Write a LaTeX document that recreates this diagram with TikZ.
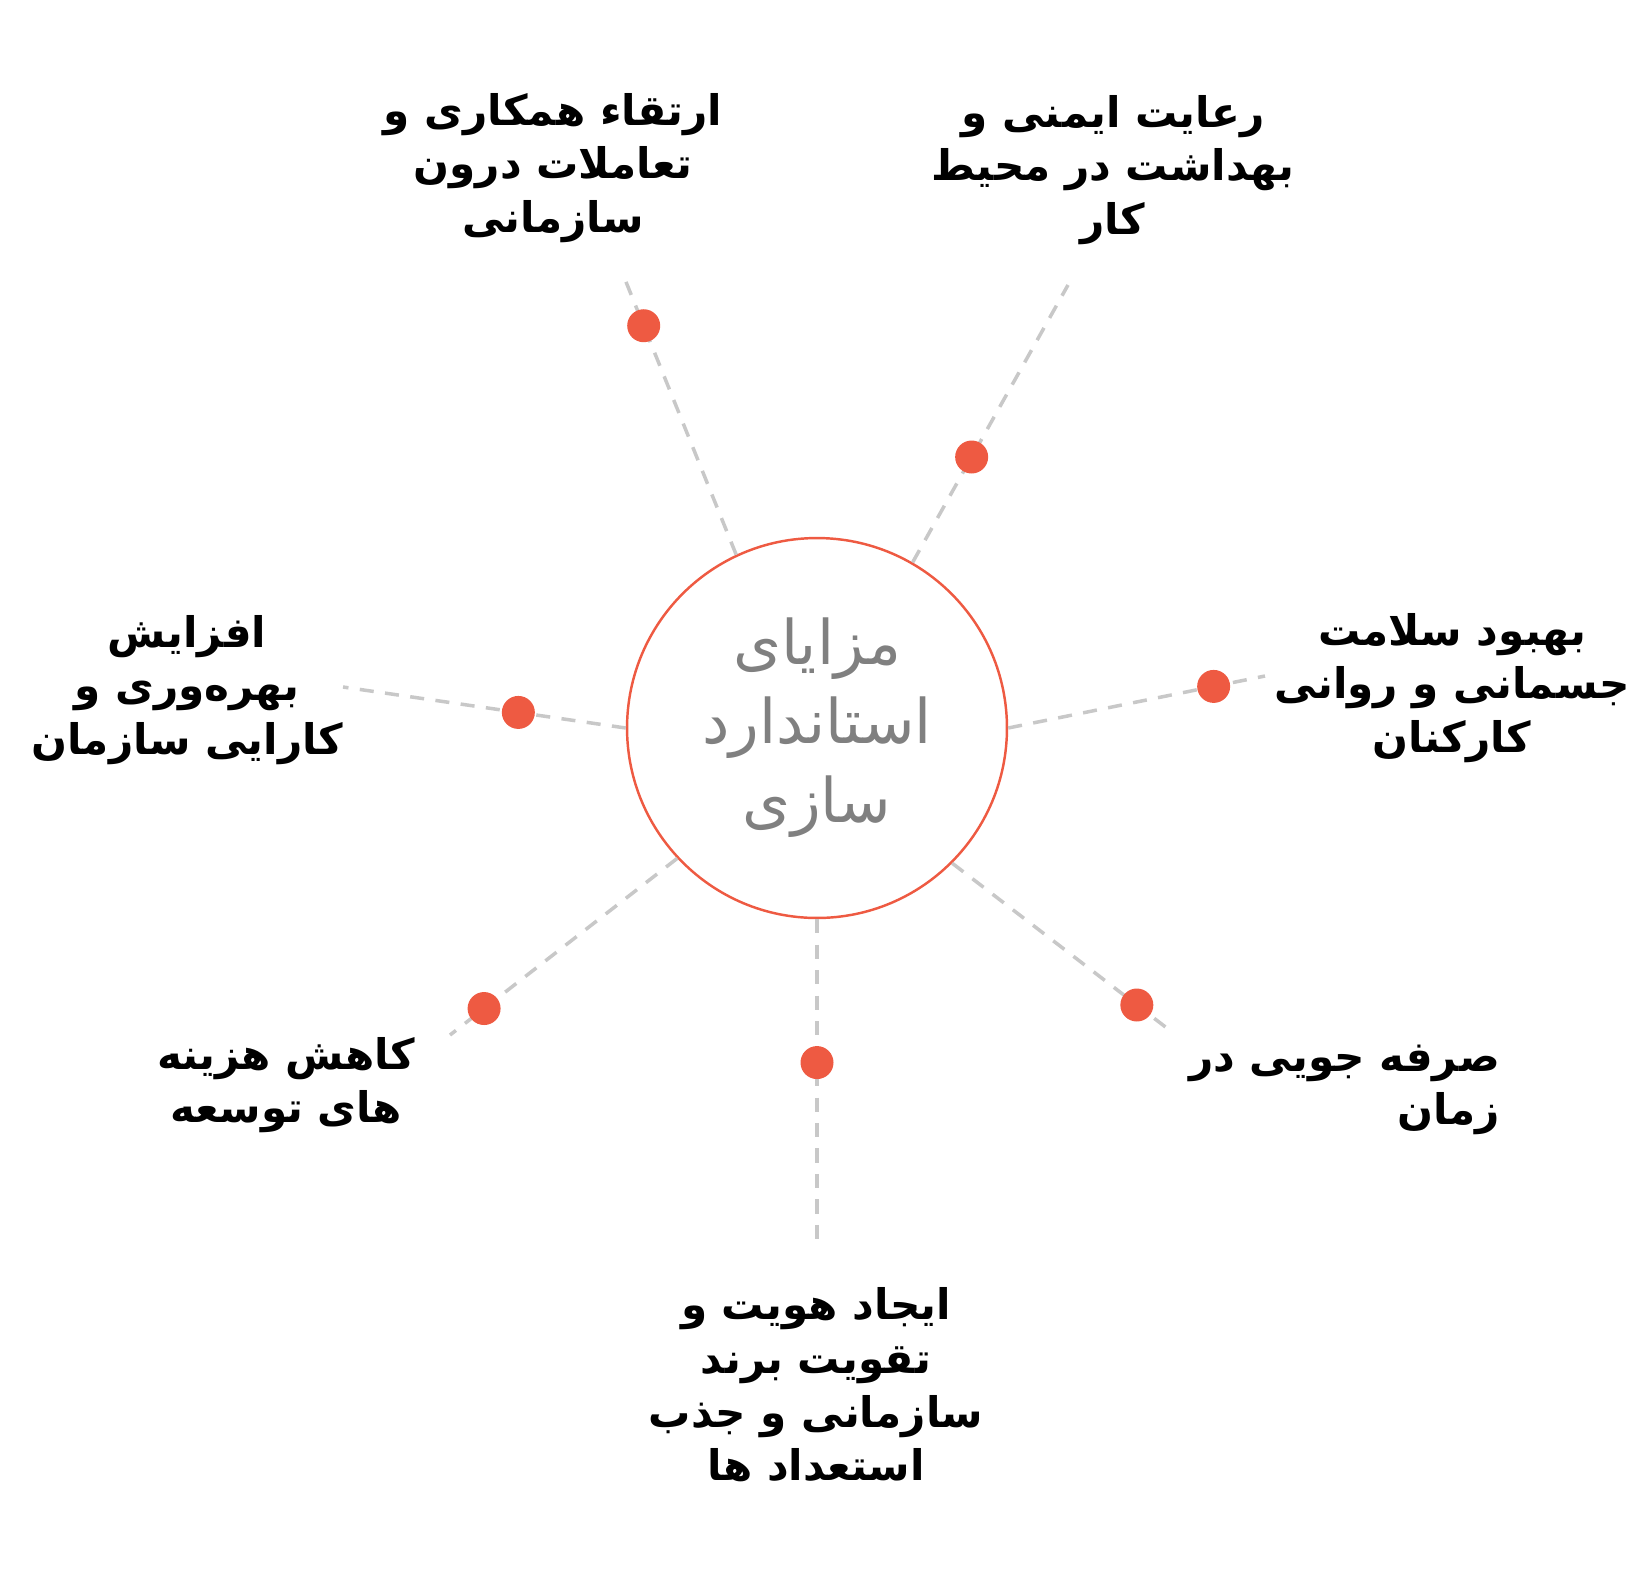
\documentclass[tikz,border=0pt]{standalone}
\usepackage{fontspec}
\usepackage{xcolor}
\usetikzlibrary{positioning}
\TeXXeTstate=1
\newfontfamily\arabicfont[Script=Arabic]{DejaVu Sans}
\newcommand{\rtl}[1]{\beginR #1\endR}
\definecolor{dotred}{HTML}{EE5A42}
\definecolor{dashgray}{HTML}{C8C8C8}
\definecolor{hubgray}{HTML}{808080}

\begin{document}
\begin{tikzpicture}[x=0.02cm, y=-0.02cm]
  \tikzstyle{hub}=[circle, draw=dotred, line width=1.4pt, minimum size=7.6cm, inner sep=0pt, align=center, text=hubgray, font=\arabicfont\fontsize{35}{45}\selectfont]
  \tikzstyle{dot}=[circle, fill=dotred, minimum size=0.66cm, inner sep=0pt]
  \tikzstyle{link}=[draw=dashgray, line width=2pt, dash pattern=on 8pt off 6.5pt]
  \tikzstyle{benefit}=[align=center, font=\arabicfont\bfseries\fontsize{24}{30.5}\selectfont]

  \useasboundingbox (0,0) rectangle (1652,1569);

  \node[hub] (c) at (817,728) {\rtl{مزایای}\\ \rtl{استاندارد}\\ \rtl{سازی}};

  \coordinate (e1) at (622,272);
  \coordinate (e2) at (1068,285);
  \coordinate (e3) at (1265,676);
  \coordinate (e4) at (1172,1032);
  \coordinate (e5) at (817,1245);
  \coordinate (e6) at (450,1035);
  \coordinate (e7) at (343,687);

  \draw[link] (c.115) -- (e1) node[dot, pos=0.81] (d1) {};
  \draw[link] (c.60) -- (e2) node[dot, pos=0.38] (d2) {};
  \draw[link] (c.0) -- (e3) node[dot, pos=0.80] (d3) {};
  \draw[link] (c.-45) -- (e4) node[dot, pos=0.84] (d4) {};
  \draw[link] (c.-90) -- (e5) node[dot, pos=0.44] (d5) {};
  \draw[link] (c.223) -- (e6) node[dot, pos=0.85] (d6) {};
  \draw[link] (c.180) -- (e7) node[dot, pos=0.38] (d7) {};

  \node[benefit] (t1) at (553,168) {\rtl{ارتقاء همکاری و}\\ \rtl{تعاملات درون}\\ \rtl{سازمانی}};
  \node[benefit] (t2) at (1113,170) {\rtl{رعایت ایمنی و}\\ \rtl{بهداشت در محیط}\\ \rtl{کار}};
  \node[benefit] (t3) at (1452,688) {\rtl{بهبود سلامت}\\ \rtl{جسمانی و روانی}\\ \rtl{کارکنان}};
  \node[benefit, align=right, anchor=east] (t4) at (1506,1090) {\rtl{صرفه جویی در}\\ \rtl{زمان}};
  \node[benefit] (t5) at (816,1385) {\rtl{ایجاد هویت و}\\ \rtl{تقویت برند}\\ \rtl{سازمانی و جذب}\\ \rtl{استعداد ها}};
  \node[benefit] (t6) at (286,1085) {\rtl{کاهش هزینه}\\ \rtl{های توسعه}};
  \node[benefit] (t7) at (187,690) {\rtl{افزایش}\\ \rtl{بهره‌وری و}\\ \rtl{کارایی سازمان}};
\end{tikzpicture}
\end{document}
